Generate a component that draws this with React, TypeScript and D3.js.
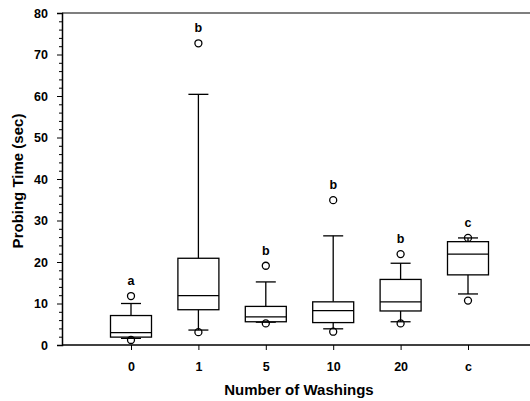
import React, { useEffect, useRef } from 'react';
import * as d3 from 'd3';

const categories = ['0', '1', '5', '10', '20', 'c'];
const whiskerLow = [1.6, 3.6, 5.5, 3.9, 5.6, 12.3];
const q1 = [1.9, 8.5, 5.6, 5.4, 8.2, 16.9];
const medians = [3.0, 11.9, 6.8, 8.3, 10.4, 21.9];
const q3 = [7.1, 20.9, 9.3, 10.4, 15.8, 24.9];
const whiskerHigh = [10.0, 60.4, 15.2, 26.3, 19.7, 25.8];
const outliersLow = [1.2, 3.1, 5.2, 3.2, 5.2, 10.7];
const outliersHigh = [11.8, 72.7, 19.1, 34.9, 21.9, 25.8];
const letters = ['a', 'b', 'b', 'b', 'b', 'c'];
const yTicks = [0, 10, 20, 30, 40, 50, 60, 70, 80];

const App = () => {
  const ref = useRef<SVGSVGElement>(null);

  useEffect(() => {
    const width = 530;
    const height = 401;
    const left = 62;
    const right = 530;
    const top = 13;
    const bottom = 345;

    const svg = d3.select(ref.current);
    svg.selectAll('*').remove();

    const x = d3.scalePoint<string>().domain(categories).range([131, 468]);
    const y = d3.scaleLinear().domain([0, 80]).range([bottom, top]);

    const boxW = 41;
    const capW = 20;
    const font = 'Liberation Sans, Arial, sans-serif';

    // frame: top line, left axis, bottom axis
    svg.append('line')
      .attr('x1', left).attr('x2', right).attr('y1', top).attr('y2', top)
      .attr('stroke', '#000').attr('stroke-width', 1.2);

    const yAxis = d3.axisLeft(y).tickValues(yTicks).tickSize(5).tickPadding(9);
    const gy = svg.append('g').attr('transform', `translate(${left},0)`).call(yAxis);
    gy.select('.domain').attr('stroke-width', 1.5);
    gy.selectAll('text')
      .attr('font-family', font).attr('font-size', 12.5).attr('font-weight', 'bold');

    const minorAxis = d3.axisLeft(y)
      .tickValues(d3.range(0, 81, 2).filter((v) => v % 10 !== 0))
      .tickSize(3).tickFormat(() => '');
    const gm = svg.append('g').attr('transform', `translate(${left},0)`).call(minorAxis);
    gm.select('.domain').remove();

    const xAxis = d3.axisBottom(x).tickSize(5).tickPadding(12).tickSizeOuter(0);
    const gx = svg.append('g').attr('transform', `translate(0,${bottom})`).call(xAxis);
    gx.select('.domain')
      .attr('d', `M${left},0H${right}`)
      .attr('stroke-width', 1.5);
    gx.selectAll('text')
      .attr('font-family', font).attr('font-size', 12.5).attr('font-weight', 'bold');

    const g = svg.append('g');
    categories.forEach((c, i) => {
      const cx = x(c) as number;
      const line = (x1: number, y1: number, x2: number, y2: number) =>
        g.append('line')
          .attr('x1', x1).attr('y1', y1).attr('x2', x2).attr('y2', y2)
          .attr('stroke', '#000').attr('stroke-width', 1.3);

      // whiskers
      line(cx, y(q3[i]), cx, y(whiskerHigh[i]));
      line(cx, y(q1[i]), cx, y(whiskerLow[i]));
      line(cx - capW / 2, y(whiskerHigh[i]), cx + capW / 2, y(whiskerHigh[i]));
      line(cx - capW / 2, y(whiskerLow[i]), cx + capW / 2, y(whiskerLow[i]));

      // box
      g.append('rect')
        .attr('x', cx - boxW / 2).attr('width', boxW)
        .attr('y', y(q3[i])).attr('height', y(q1[i]) - y(q3[i]))
        .attr('fill', '#fff').attr('stroke', '#000').attr('stroke-width', 1.3);
      line(cx - boxW / 2, y(medians[i]), cx + boxW / 2, y(medians[i]));

      // outliers
      [outliersLow[i], outliersHigh[i]].forEach((v) => {
        g.append('circle')
          .attr('cx', cx).attr('cy', y(v)).attr('r', 3.5)
          .attr('fill', 'none').attr('stroke', '#000').attr('stroke-width', 1.3);
      });

      // significance letters
      g.append('text')
        .attr('x', cx).attr('y', y(outliersHigh[i]) - 11)
        .attr('text-anchor', 'middle')
        .attr('font-family', font).attr('font-size', 12.5).attr('font-weight', 'bold')
        .text(letters[i]);
    });

    svg.append('text')
      .attr('transform', `translate(23,${(top + bottom) / 2 + 2}) rotate(-90)`)
      .attr('text-anchor', 'middle')
      .attr('font-family', font).attr('font-size', 15).attr('font-weight', 'bold')
      .text('Probing Time (sec)');

    svg.append('text')
      .attr('x', 299).attr('y', 395)
      .attr('text-anchor', 'middle')
      .attr('font-family', font).attr('font-size', 15).attr('font-weight', 'bold')
      .text('Number of Washings');

    svg.attr('width', width).attr('height', height);
  }, []);

  return (
    <svg ref={ref} style={{ position: 'absolute', left: 0, top: 0, background: '#fff' }} />
  );
};

export default App;
